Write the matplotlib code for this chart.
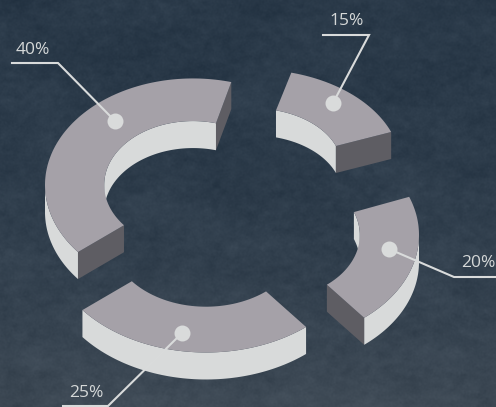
import numpy as np
import matplotlib.pyplot as plt

labels = ['40%', '25%', '20%', '15%']
shares = [40, 25, 20, 15]

# ring shape in pixels
inner_ratio = 0.6
depth = 27
start_angle = 75

# each slice is pulled away from the middle on its own
centers = [(193, 185), (206, 238), (271, 235), (253, 167)]
radii = [148, 159, 148, 148]
squashes = [0.72, 0.72, 0.72, 0.66]

top_color = '#a5a1a8'
wall_color = '#d8dada'
end_color = '#5e5d63'
line_color = '#d9dbdb'
text_color = '#d5d8d8'

# leader lines, last point is the dot on the slice
leaders = [
    [(12, 63), (58, 63), (115, 121)],
    [(63, 406), (108, 406), (182, 333)],
    [(496, 277), (454, 277), (389, 249)],
    [(323, 35), (369, 35), (333, 103)],
]
label_pos = [(33, 50), (86, 393), (478, 263), (347, 21)]


def arc(center, r, squash, t):
    x = center[0] + r * np.cos(np.radians(t))
    y = center[1] - r * squash * np.sin(np.radians(t))
    return x, y


def draw_wall(ax, x, y, keep):
    if keep.sum() < 2:
        return
    xs = np.concatenate([x[keep], x[keep][::-1]])
    ys = np.concatenate([y[keep], y[keep][::-1] + depth])
    ax.fill(xs, ys, color=wall_color, lw=0, zorder=2)


def draw_end(ax, center, radius, squash, t, mid):
    px, py = arc(center, radius * inner_ratio, squash, t)
    qx, qy = arc(center, radius, squash, t)
    ex, ey = qx - px, qy - py
    body = ex * (mid[1] - py) - ey * (mid[0] - px)
    down = ex * depth
    # only the ends turned towards the viewer get drawn
    if body * down < 0:
        ax.fill([px, qx, qx, px], [py, qy, qy + depth, py + depth],
                color=end_color, lw=0, zorder=2)


def draw_slice(ax, center, radius, squash, t0, t1):
    t = np.linspace(t0, t1, 200)
    ox, oy = arc(center, radius, squash, t)
    ix, iy = arc(center, radius * inner_ratio, squash, t)
    sin_t = np.sin(np.radians(t))
    draw_wall(ax, ox, oy, sin_t <= 0)
    draw_wall(ax, ix, iy, sin_t >= 0)
    mid = arc(center, radius * (1 + inner_ratio) / 2, squash, (t0 + t1) / 2)
    draw_end(ax, center, radius, squash, t0, mid)
    draw_end(ax, center, radius, squash, t1, mid)
    ax.fill(np.concatenate([ox, ix[::-1]]), np.concatenate([oy, iy[::-1]]),
            color=top_color, lw=0, zorder=3)


def smooth_noise(rng, h, w, sx, sy):
    fy = np.fft.fftfreq(h)[:, None]
    fx = np.fft.fftfreq(w)[None, :]
    damp = np.exp(-2 * np.pi ** 2 * ((fx * sx) ** 2 + (fy * sy) ** 2))
    n = np.fft.ifft2(np.fft.fft2(rng.normal(size=(h, w))) * damp).real
    return n / n.std()


def board(h, w):
    # chalkboard backdrop, a bit lighter towards the bottom
    rng = np.random.default_rng(7)
    yy = np.linspace(0, 1, h)[:, None, None]
    dark = np.array([0.165, 0.225, 0.285])
    light = np.array([0.245, 0.290, 0.335])
    img = dark + (light - dark) * yy ** 2.2 * np.ones((h, w, 3))
    grain = (0.006 * smooth_noise(rng, h, w, 16, 8)
             + 0.006 * smooth_noise(rng, h, w, 3, 2)
             + 0.004 * smooth_noise(rng, h, w, 0.7, 0.7))
    return np.clip(img + grain[:, :, None], 0, 1)


fig = plt.figure(figsize=(4.96, 4.07), dpi=100)
ax = fig.add_axes([0, 0, 1, 1])
ax.imshow(board(407, 496), extent=(0, 496, 407, 0), zorder=0)

angle = start_angle
for center, radius, squash, share in zip(centers, radii, squashes, shares):
    sweep = share * 3.6
    draw_slice(ax, center, radius, squash, angle, angle + sweep)
    angle += sweep

for points, label, pos in zip(leaders, labels, label_pos):
    xs, ys = zip(*points)
    ax.plot(xs, ys, color=line_color, lw=1.5, solid_joinstyle='miter', zorder=4)
    ax.plot(xs[-1], ys[-1], 'o', ms=11.5, color=line_color, mew=0, zorder=5)
    ax.text(pos[0], pos[1], label, color=text_color, fontsize=12.5,
            family='Open Sans', ha='center', va='center', zorder=5)

ax.set_xlim(0, 496)
ax.set_ylim(407, 0)
ax.axis('off')
fig.savefig('out.png', dpi=100)
